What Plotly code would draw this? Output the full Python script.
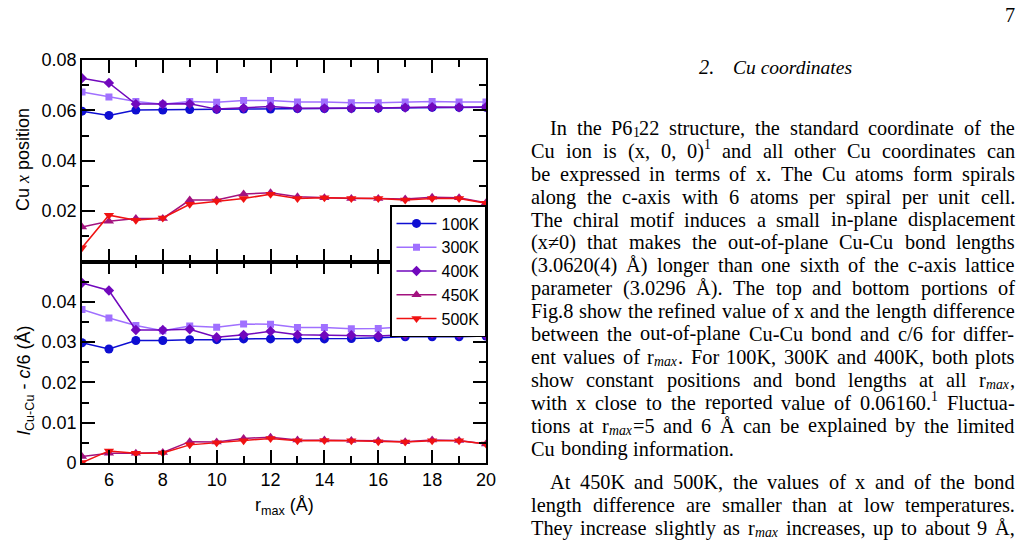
import re
import plotly.graph_objects as go

# ---------------- data ----------------
r_max = [5, 6, 7, 8, 9, 10, 11, 12, 13, 14, 15, 16, 17, 18, 19, 20]
temps = ["100K", "300K", "400K", "450K", "500K"]

# top panel: Cu x position
x_100K = [0.0597, 0.0580, 0.0601, 0.0601, 0.0603, 0.0604, 0.0605, 0.0605, 0.0607, 0.0607, 0.0608, 0.0609, 0.0612, 0.0612, 0.0612, 0.0612]
x_300K = [0.0673, 0.0653, 0.0635, 0.0624, 0.0635, 0.0632, 0.0639, 0.0639, 0.0633, 0.0633, 0.0630, 0.0630, 0.0633, 0.0635, 0.0633, 0.0633]
x_400K = [0.0728, 0.0709, 0.0625, 0.0625, 0.0626, 0.0605, 0.0609, 0.0615, 0.0608, 0.0608, 0.0608, 0.0609, 0.0611, 0.0613, 0.0612, 0.0613]
x_450K = [0.0137, 0.0160, 0.0171, 0.0171, 0.0244, 0.0244, 0.0268, 0.0273, 0.0257, 0.0253, 0.0250, 0.0250, 0.0248, 0.0255, 0.0253, 0.0233]
x_500K = [0.0055, 0.0184, 0.0164, 0.0173, 0.0227, 0.0240, 0.0250, 0.0267, 0.0250, 0.0253, 0.0250, 0.0250, 0.0244, 0.0250, 0.0250, 0.0231]

# bottom panel: l(Cu-Cu) - c/6 (Å)
d_100K = [0.02985, 0.0283, 0.0304, 0.0304, 0.0306, 0.0306, 0.0308, 0.0308, 0.0308, 0.0308, 0.0309, 0.0311, 0.0313, 0.0313, 0.0313, 0.0315]
d_300K = [0.0381, 0.0360, 0.0341, 0.0328, 0.0340, 0.0337, 0.0345, 0.0344, 0.0336, 0.0336, 0.0333, 0.0334, 0.0338, 0.0340, 0.0338, 0.0337]
d_400K = [0.0447, 0.0428, 0.0330, 0.0330, 0.0332, 0.0312, 0.0318, 0.0327, 0.0318, 0.0317, 0.0317, 0.0315, 0.0318, 0.0321, 0.0319, 0.0317]
d_450K = [0.0016, 0.0024, 0.0024, 0.0026, 0.0053, 0.0052, 0.0061, 0.0064, 0.0057, 0.0057, 0.0056, 0.0055, 0.0053, 0.0057, 0.0056, 0.0047]
d_500K = [0.0001, 0.0030, 0.0024, 0.0025, 0.0045, 0.0050, 0.0055, 0.0061, 0.0055, 0.0056, 0.0055, 0.0053, 0.0052, 0.0055, 0.0055, 0.0047]

x_ticks = [6, 8, 10, 12, 14, 16, 18, 20]
x_ticktext = ["6", "8", "10", "12", "14", "16", "18", "20"]
top_ticks = [0.02, 0.04, 0.06, 0.08]
top_ticktext = ["0.02", "0.04", "0.06", "0.08"]
bot_ticks = [0, 0.01, 0.02, 0.03, 0.04]
bot_ticktext = ["0", "0.01", "0.02", "0.03", "0.04"]

# page text
page_number = "7"
heading_num = "2."
heading_text = "Cu coordinates"
para_lines = [
    "In the P6<sub>1</sub>22 structure, the standard coordinate of the",
    "Cu ion is (x, 0, 0)<sup>1</sup> and all other Cu coordinates can",
    "be expressed in terms of x. The Cu atoms form spirals",
    "along the c-axis with 6 atoms per spiral per unit cell.",
    "The chiral motif induces a small in-plane displacement",
    "(x≠0) that makes the out-of-plane Cu-Cu bond lengths",
    "(3.0620(4) Å) longer than one sixth of the c-axis lattice",
    "parameter (3.0296 Å). The top and bottom portions of",
    "Fig.8 show the refined value of x and the length difference",
    "between the out-of-plane Cu-Cu bond and c/6 for differ-",
    "ent values of r<sub><i>max</i></sub>. For 100K, 300K and 400K, both plots",
    "show constant positions and bond lengths at all r<sub><i>max</i></sub>,",
    "with x close to the reported value of 0.06160.<sup>1</sup> Fluctua-",
    "tions at r<sub><i>max</i></sub>=5 and 6 Å can be explained by the limited",
    "Cu bonding information.",
    "At 450K and 500K, the values of x and of the bond",
    "length difference are smaller than at low temperatures.",
    "They increase slightly as r<sub><i>max</i></sub> increases, up to about 9 Å,",
]
# (indent, justified, y position in px)
line_fmt = [
    (True, True, 128), (False, True, 151), (False, True, 174), (False, True, 197),
    (False, True, 219.5), (False, True, 242), (False, True, 265), (False, True, 288),
    (False, True, 311), (False, True, 333.5), (False, True, 357), (False, True, 380),
    (False, True, 402.5), (False, True, 425.5), (False, False, 448.5),
    (True, True, 482), (False, True, 505), (False, True, 528),
]

# ---------------- geometry ----------------
W, H = 1028, 544
L, R, T, B = 82, 486, 60, 463
PW, PH = R - L, B - T


def px(X):
    return (X - L) / PW


def py(Y):
    return (B - Y) / PH


colors = {"100K": "#0e0ed2", "300K": "#a070ff", "400K": "#7108bd", "450K": "#a3127f", "500K": "#f01212"}
symbols = {"100K": "circle", "300K": "square", "400K": "diamond", "450K": "triangle-up", "500K": "triangle-down"}
msizes = {"100K": 9, "300K": 7, "400K": 8, "450K": 9, "500K": 9}
top_vals = {"100K": x_100K, "300K": x_300K, "400K": x_400K, "450K": x_450K, "500K": x_500K}
bot_vals = {"100K": d_100K, "300K": d_300K, "400K": d_400K, "450K": d_450K, "500K": d_500K}

fig = go.Figure()
for t in temps:
    fig.add_trace(go.Scatter(
        x=r_max, y=top_vals[t], xaxis="x2", yaxis="y2", mode="lines+markers", name=t,
        legendgroup=t, showlegend=True,
        line=dict(color=colors[t], width=1.5),
        marker=dict(symbol=symbols[t], size=msizes[t], color=colors[t]),
    ))
    fig.add_trace(go.Scatter(
        x=r_max, y=bot_vals[t], xaxis="x", yaxis="y", mode="lines+markers", name=t,
        legendgroup=t, showlegend=False,
        line=dict(color=colors[t], width=1.5),
        marker=dict(symbol=symbols[t], size=msizes[t], color=colors[t]),
    ))

sans = "Liberation Sans, Arial, sans-serif"
serif = "Liberation Serif, Times New Roman, serif"
tickfont = dict(family=sans, size=18, color="black")
common_x = dict(
    range=[5, 20], tickvals=x_ticks, ticktext=x_ticktext, ticks="inside", ticklen=13,
    tickwidth=1.5, tickcolor="black", mirror="allticks", showline=True, linewidth=1.6,
    linecolor="black", showgrid=False, zeroline=False, tickfont=tickfont,
    minor=dict(dtick=1, tick0=5, ticks="inside", ticklen=7, tickwidth=1.5, tickcolor="black", showgrid=False),
)
common_y = dict(
    ticks="inside", ticklen=13, tickwidth=1.5, tickcolor="black", mirror="allticks",
    showline=True, linewidth=1.6, linecolor="black", showgrid=False, zeroline=False,
    tickfont=tickfont,
)

fig.update_layout(
    width=W, height=H, margin=dict(l=L, r=W - R, t=T, b=H - B, pad=0),
    paper_bgcolor="white", plot_bgcolor="white",
    xaxis=dict(domain=[0, 1], anchor="y", **common_x),
    xaxis2=dict(domain=[0, 1], anchor="y2", matches="x", showticklabels=False, **common_x),
    yaxis=dict(domain=[0, 0.5], anchor="x", range=[0, 0.05], tickvals=bot_ticks, ticktext=bot_ticktext,
               minor=dict(dtick=0.005, tick0=0, ticks="inside", ticklen=7, tickwidth=1.5, tickcolor="black", showgrid=False),
               **common_y),
    yaxis2=dict(domain=[0.5, 1], anchor="x2", range=[0, 0.08], tickvals=top_ticks, ticktext=top_ticktext,
                minor=dict(dtick=0.01, tick0=0, ticks="inside", ticklen=7, tickwidth=1.5, tickcolor="black", showgrid=False),
                **common_y),
    legend=dict(x=1, xanchor="right", y=py(205), yanchor="top", bgcolor="white",
                bordercolor="black", borderwidth=1.5, tracegroupgap=0, itemwidth=40,
                font=dict(family=sans, size=16, color="black")),
    showlegend=True,
)

ann = []
# axis titles
ann.append(dict(text="Cu <span style=\"font-family:'Liberation Serif'\"><i>x</i></span> position",
                x=px(23), y=py(160), textangle=-90, font=dict(family=sans, size=18, color="black")))
ann.append(dict(text="<i>l</i><sub>Cu-Cu</sub> - <i>c</i>/6 (Å)",
                x=px(25), y=py(381), textangle=-90, font=dict(family=sans, size=18, color="black")))
ann.append(dict(text="r<sub>max</sub> (Å)", x=px(284), y=py(506),
                font=dict(family=sans, size=18, color="black")))

# ---------------- page text (justified, word by word) ----------------
TW = {' ': 250, '(': 333, ')': 333, ',': 250, '-': 333, '.': 250, '/': 278, '=': 564, ':': 278,
      'Å': 722, '≠': 549, "'": 180}
for ch in "0123456789":
    TW[ch] = 500
TW.update(dict(A=722, B=667, C=667, D=722, E=611, F=556, G=722, H=722, I=333, J=389, K=722, L=611,
               M=889, N=722, O=722, P=556, Q=722, R=667, S=556, T=611, U=722, V=722, W=944, X=722,
               Y=722, Z=611))
TW.update(dict(a=444, b=500, c=444, d=500, e=444, f=333, g=500, h=500, i=278, j=278, k=500, l=278,
               m=778, n=500, o=500, p=500, q=500, r=333, s=389, t=278, u=500, v=500, w=722, x=500,
               y=500, z=444))

SEG_RE = re.compile(r"<sub>(.*?)</sub>|<sup>(.*?)</sup>|([^<]+(?:<i>[^<]*</i>)?)")
SUBSCALE = 0.68


def segments(word):
    out = []
    for m in SEG_RE.finditer(word):
        if m.group(1) is not None:
            out.append((m.group(1), "sub"))
        elif m.group(2) is not None:
            out.append((m.group(2), "sup"))
        elif m.group(3):
            out.append((m.group(3), "n"))
    return out


def em_width(markup):
    plain = re.sub(r"<[^>]+>", "", markup)
    return sum(TW.get(c, 500) for c in plain) / 1000.0


def seg_em(seg):
    text, mode = seg
    return em_width(text) * (SUBSCALE if mode != "n" else 1.0)


LEFT, RIGHT, INDENT = 531, 1015, 19
# font size: as large as the densest justified line allows
fits = []
for line, (indent, justify, Y) in zip(para_lines, line_fmt):
    if justify:
        words = line.split(" ")
        nat = sum(sum(seg_em(s) for s in segments(w)) for w in words) + 0.25 * (len(words) - 1)
        fits.append((RIGHT - LEFT - (INDENT if indent else 0)) / nat)
FS = min(20.5, 0.985 * min(fits))

for line, (indent, justify, Y) in zip(para_lines, line_fmt):
    words = line.split(" ")
    x0 = LEFT + (INDENT if indent else 0)
    segs = [segments(w) for w in words]
    widths = [sum(seg_em(s) for s in sg) * FS for sg in segs]
    if justify and len(words) > 1:
        gap = (RIGHT - x0 - sum(widths)) / (len(words) - 1)
    else:
        gap = 0.3 * FS
    X = x0
    for sg, wd in zip(segs, widths):
        xs = X
        for text, mode in sg:
            size = FS if mode == "n" else SUBSCALE * FS
            yshift = 0 if mode == "n" else (-0.24 * FS if mode == "sub" else 0.3 * FS)
            ann.append(dict(text=text, x=px(xs - 2), y=py(Y), xanchor="left", yanchor="middle",
                            yshift=yshift, font=dict(family=serif, size=size, color="black")))
            xs += seg_em((text, mode)) * FS
        X += wd + gap

ann.append(dict(text=page_number, x=px(1017), y=py(15), xanchor="right",
                font=dict(family=serif, size=FS, color="black")))
ann.append(dict(text="<i>" + heading_num + "</i>", x=px(697), y=py(67), xanchor="left",
                font=dict(family=serif, size=FS, color="black")))
ann.append(dict(text="<i>" + heading_text + "</i>", x=px(731), y=py(67), xanchor="left",
                font=dict(family=serif, size=FS * 0.96, color="black")))

for a in ann:
    a.setdefault("xref", "paper")
    a.setdefault("yref", "paper")
    a.setdefault("xanchor", "center")
    a.setdefault("yanchor", "middle")
    a.setdefault("showarrow", False)
fig.update_layout(annotations=ann)

fig.write_html("out.html")
